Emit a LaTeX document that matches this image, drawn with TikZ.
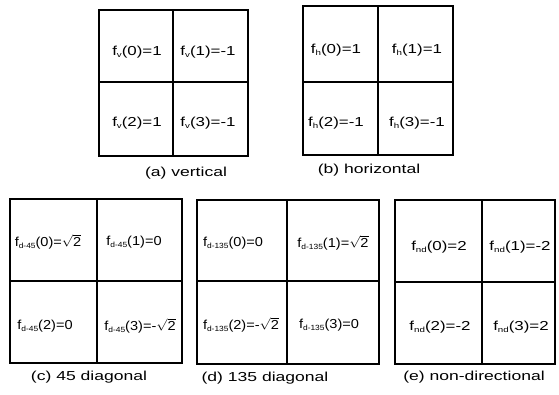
\documentclass[tikz,border=0pt]{standalone}
\usepackage{fontspec}
\usepackage{graphicx}
\setmainfont{Liberation Sans}

% wide, scanned-looking lettering
\newcommand{\wideText}[2][1.3]{\scalebox{#1}[1]{#2}}
\newcommand{\fsub}[1]{f\raisebox{-0.35ex}{\fontsize{7.5}{8}\selectfont #1}}
\newcommand{\rtwo}{\(\sqrt{\hbox{2}}\)}

\tikzset{
    frame/.style={line width=2.8pt},
    coef/.style={inner sep=0pt, font=\fontsize{13}{15}\selectfont},
    caption/.style={inner sep=0pt, font=\fontsize{13}{15}\selectfont},
}

\begin{document}
\begin{tikzpicture}[x=1pt, y=-1pt, line width=1.7pt, black]
            % Fix the page to the size of the reference
            \useasboundingbox (0,0) rectangle (559,394);

            % Draw the five 2x2 masks: frame first, then the cross
            \foreach \L/\R/\T/\B/\MX/\MY in {99/248/10/156/173/82, 303/453/6/155/378/82,
                10/182/199/363/97/281, 197/379/200/364/287/281, 395/555/200/364/482/282} {
                \draw[frame] (\L,\T) rectangle (\R,\B);
                \draw (\MX,\T) -- (\MX,\B);
                \draw (\L,\MY) -- (\R,\MY);
            }

            % (a) vertical
            \node[coef] (a0) at (137,52) {\wideText{\fsub{v}(0)=1}};
            \node[coef] (a1) at (208,52) {\wideText{\fsub{v}(1)=-1}};
            \node[coef] (a2) at (137,123) {\wideText{\fsub{v}(2)=1}};
            \node[coef] (a3) at (208,123) {\wideText{\fsub{v}(3)=-1}};
            \node[caption] (acap) at (186,173) {\wideText[1.35]{(a) vertical}};

            % (b) horizontal
            \node[coef] (b0) at (336,50) {\wideText{\fsub{h}(0)=1}};
            \node[coef] (b1) at (417,50) {\wideText{\fsub{h}(1)=1}};
            \node[coef] (b2) at (336,123) {\wideText{\fsub{h}(2)=-1}};
            \node[coef] (b3) at (417,123) {\wideText{\fsub{h}(3)=-1}};
            \node[caption] (bcap) at (369,170) {\wideText[1.35]{(b) horizontal}};

            % (c) 45 diagonal
            \node[coef] (c0) at (48,242) {\wideText[1.12]{\fsub{d-45}(0)=\rtwo}};
            \node[coef] (c1) at (134,242) {\wideText[1.12]{\fsub{d-45}(1)=0}};
            \node[coef] (c2) at (45,326) {\wideText[1.12]{\fsub{d-45}(2)=0}};
            \node[coef] (c3) at (140,326) {\wideText[1.12]{\fsub{d-45}(3)=-\rtwo}};
            \node[caption] (ccap) at (89,377) {\wideText[1.35]{(c) 45 diagonal}};

            % (d) 135 diagonal
            \node[coef] (d0) at (233,243) {\wideText[1.12]{\fsub{d-135}(0)=0}};
            \node[coef] (d1) at (333,243) {\wideText[1.12]{\fsub{d-135}(1)=\rtwo}};
            \node[coef] (d2) at (241,325) {\wideText[1.12]{\fsub{d-135}(2)=-\rtwo}};
            \node[coef] (d3) at (329,325) {\wideText[1.12]{\fsub{d-135}(3)=0}};
            \node[caption] (dcap) at (265,378) {\wideText[1.35]{(d) 135 diagonal}};

            % (e) non-directional
            \node[coef] (e0) at (439,247) {\wideText{\fsub{nd}(0)=2}};
            \node[coef] (e1) at (520,247) {\wideText{\fsub{nd}(1)=-2}};
            \node[coef] (e2) at (440,327) {\wideText{\fsub{nd}(2)=-2}};
            \node[coef] (e3) at (521,327) {\wideText{\fsub{nd}(3)=2}};
            \node[caption] (ecap) at (474,377) {\wideText[1.35]{(e) non-directional}};
\end{tikzpicture}
\end{document}
